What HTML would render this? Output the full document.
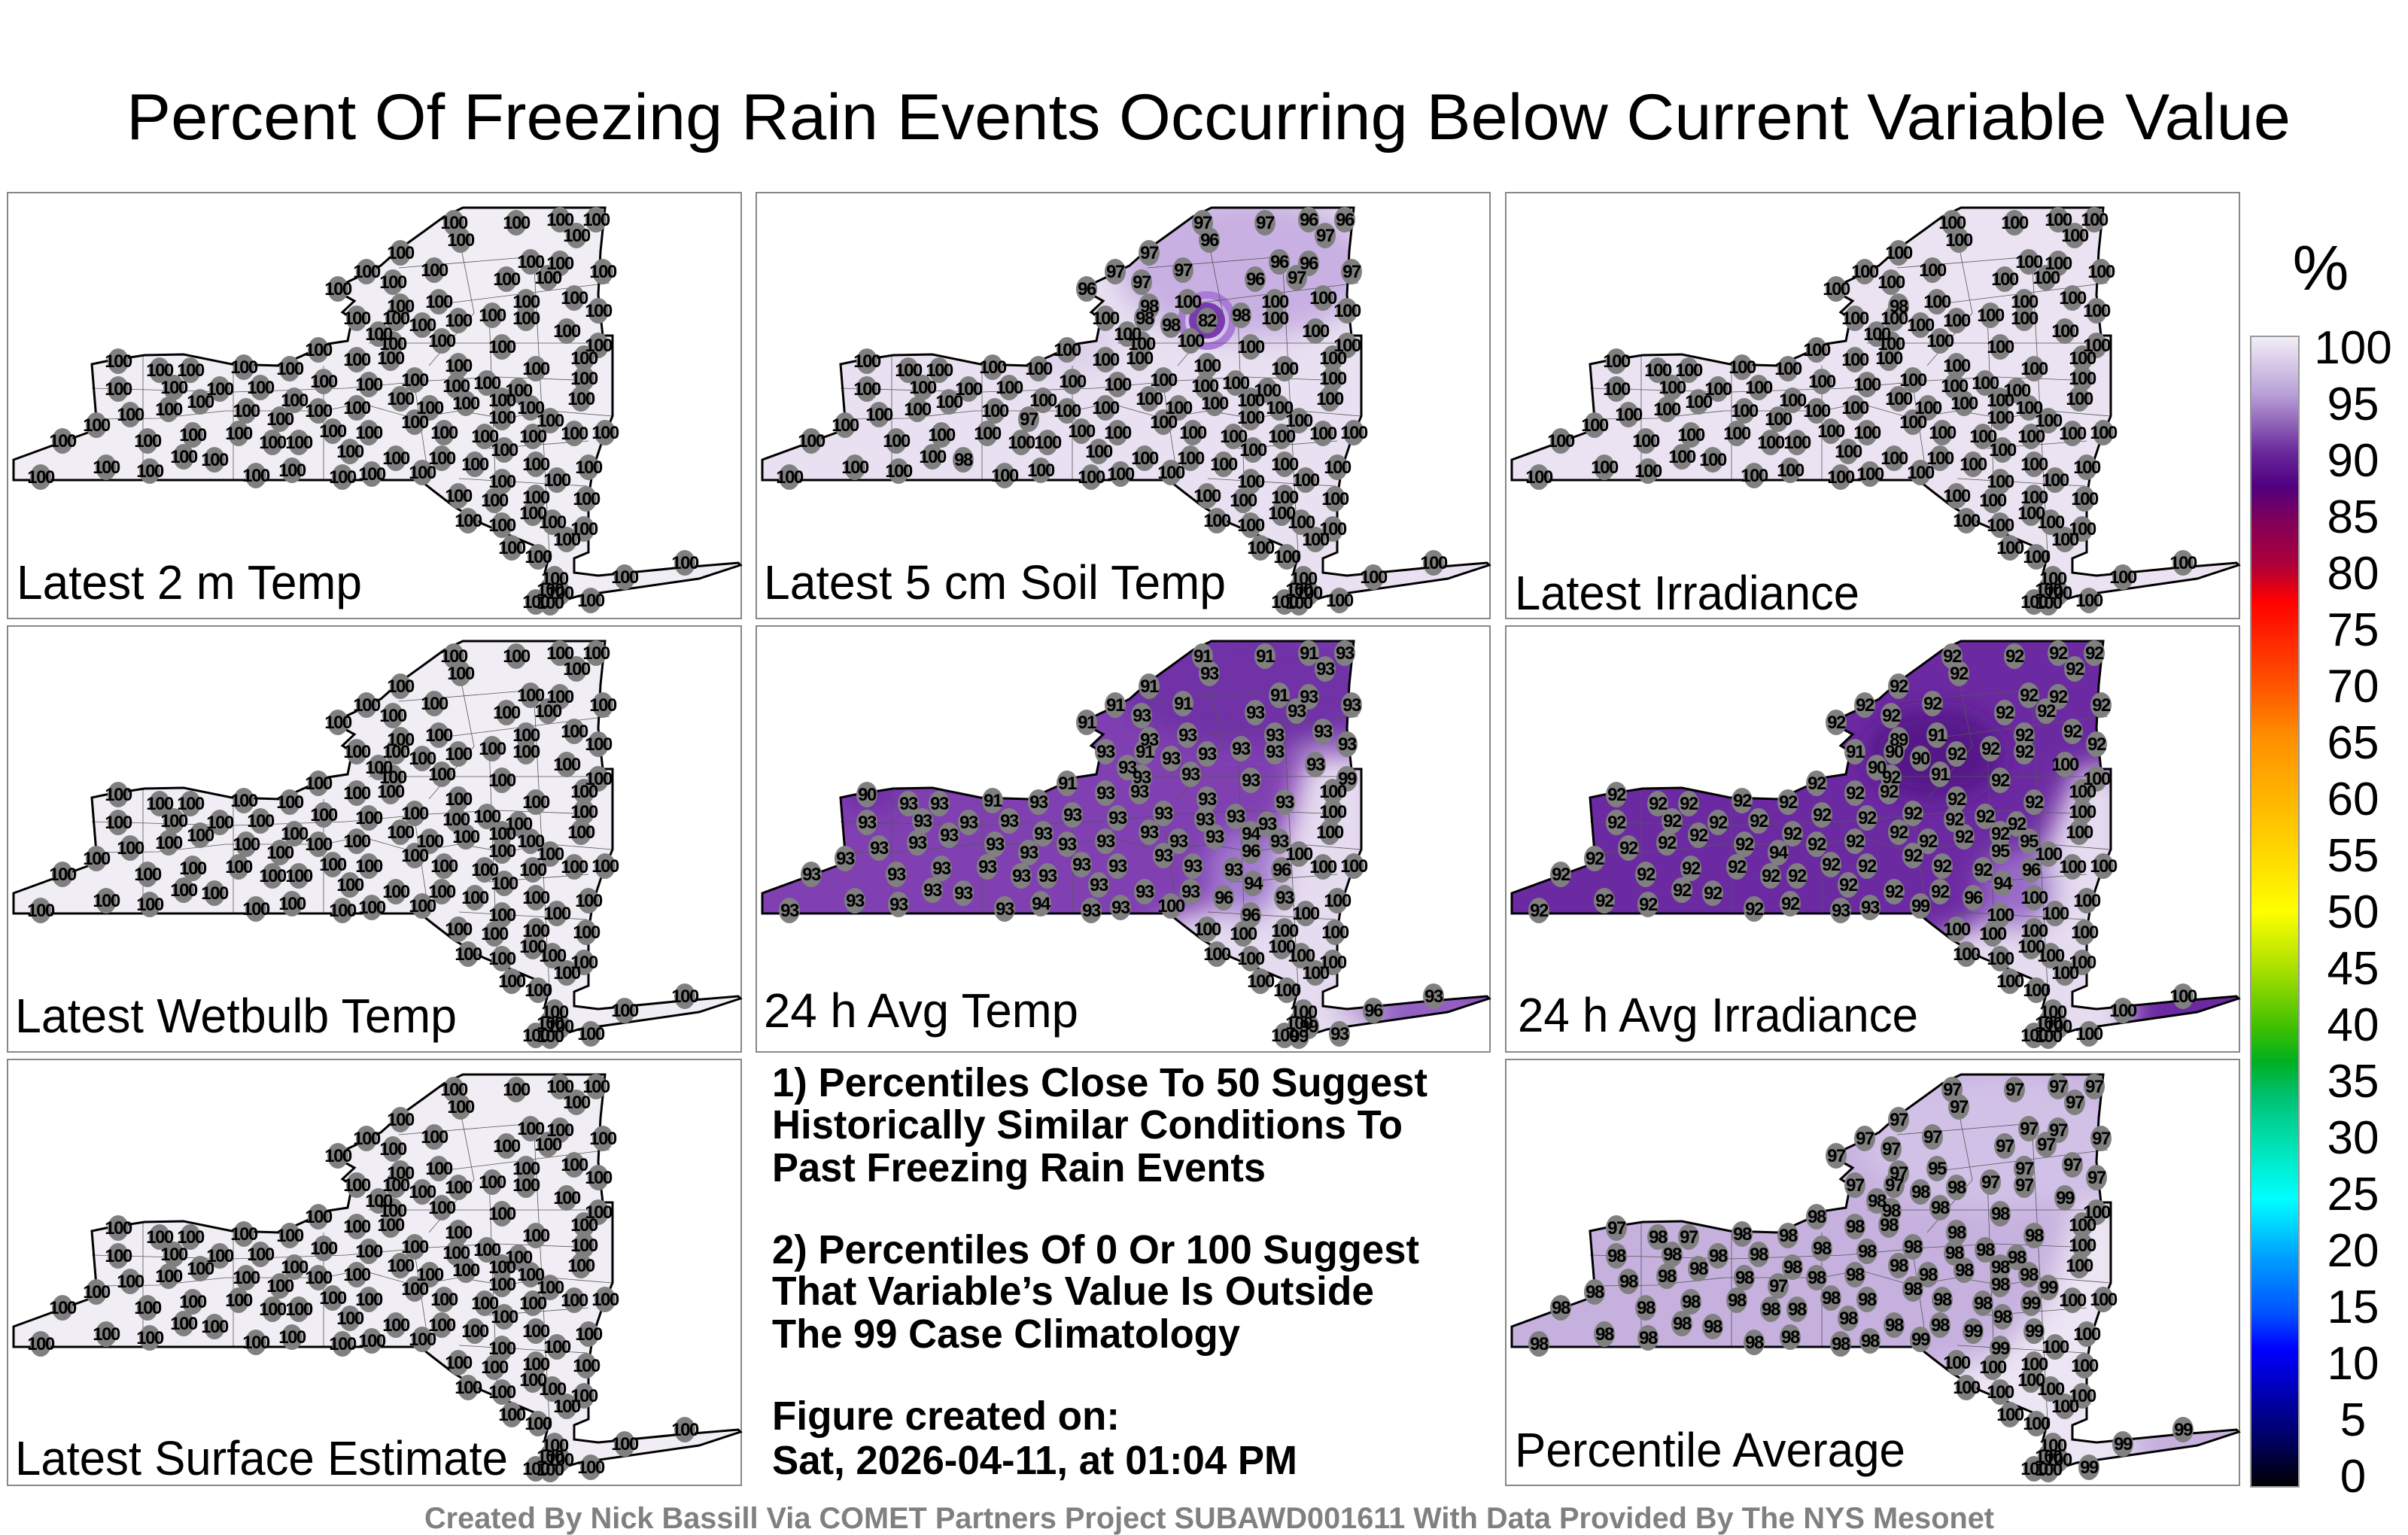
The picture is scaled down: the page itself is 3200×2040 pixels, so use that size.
<!DOCTYPE html>
<html><head><meta charset="utf-8"><style>html,body{margin:0;padding:0;background:#fff}svg{display:block}#mk ellipse{rx:14px;ry:17px}text[font-size="20"]{font-size:24px}</style></head>
<body>
<svg width="3200" height="2040" viewBox="0 0 3200 2040" xmlns="http://www.w3.org/2000/svg" font-family="Liberation Sans, sans-serif">
<defs>
<path id="ny" d="M8,382 L8,355 L112,317 L118,301 L112,228 L131,224 L182,216 L234,215 L298,228 L362,230 L400,213 L426,201 L452,197 L458,167 L445,159 L461,144 L432,128 L464,113 L496,97 L522,74 L554,51 L580,32 L605,20 L794,20 L788,78 L785,136 L791,190 L804,190 L804,297 L791,328 L778,367 L772,405 L772,478 L753,486 L753,505 L785,509 L887,499 L971,492 L974,495 L919,513 L759,536 L746,540 L721,551 L714,505 L721,478 L631,440 L593,417 L567,397 L548,382 Z"/>
<clipPath id="nyc"><use href="#ny"/></clipPath>
<filter id="bl" x="-20%" y="-20%" width="140%" height="140%"><feGaussianBlur stdDeviation="18"/></filter>
<g id="cl" stroke="#555" stroke-width="0.8" fill="none">
<path d="M118,301 L200,300 L290,290 L420,290 L470,280 L540,300 L600,290 L660,300 L720,290 L804,297"/>
<path d="M112,260 L300,265 L450,260 L560,250 L650,245 L780,250"/>
<path d="M180,382 L180,216 M300,382 L300,228 M420,382 L420,230 M560,382 L540,250 M640,160 L650,430 M700,100 L720,480 M600,60 L620,160 L560,230"/>
<path d="M560,150 L800,120 M520,100 L700,85 M480,200 L790,200 M640,340 L772,330 M600,380 L770,390"/>
</g>
<g id="mk" fill="#808080">
<ellipse cx="593" cy="40" rx="14" ry="17"/><ellipse cx="676" cy="40" rx="14" ry="17"/><ellipse cx="734" cy="36" rx="14" ry="17"/><ellipse cx="782" cy="36" rx="14" ry="17"/><ellipse cx="756" cy="57" rx="14" ry="17"/><ellipse cx="602" cy="63" rx="14" ry="17"/><ellipse cx="522" cy="80" rx="14" ry="17"/><ellipse cx="695" cy="92" rx="14" ry="17"/><ellipse cx="734" cy="94" rx="14" ry="17"/><ellipse cx="791" cy="105" rx="14" ry="17"/><ellipse cx="567" cy="103" rx="14" ry="17"/><ellipse cx="477" cy="105" rx="14" ry="17"/><ellipse cx="512" cy="119" rx="14" ry="17"/><ellipse cx="663" cy="115" rx="14" ry="17"/><ellipse cx="718" cy="113" rx="14" ry="17"/><ellipse cx="439" cy="128" rx="14" ry="17"/><ellipse cx="573" cy="145" rx="14" ry="17"/><ellipse cx="689" cy="145" rx="14" ry="17"/><ellipse cx="753" cy="140" rx="14" ry="17"/><ellipse cx="785" cy="157" rx="14" ry="17"/><ellipse cx="522" cy="151" rx="14" ry="17"/><ellipse cx="464" cy="167" rx="14" ry="17"/><ellipse cx="516" cy="167" rx="14" ry="17"/><ellipse cx="551" cy="176" rx="14" ry="17"/><ellipse cx="599" cy="170" rx="14" ry="17"/><ellipse cx="644" cy="163" rx="14" ry="17"/><ellipse cx="689" cy="167" rx="14" ry="17"/><ellipse cx="743" cy="184" rx="14" ry="17"/><ellipse cx="493" cy="188" rx="14" ry="17"/><ellipse cx="512" cy="201" rx="14" ry="17"/><ellipse cx="577" cy="197" rx="14" ry="17"/><ellipse cx="657" cy="205" rx="14" ry="17"/><ellipse cx="785" cy="203" rx="14" ry="17"/><ellipse cx="413" cy="209" rx="14" ry="17"/><ellipse cx="464" cy="222" rx="14" ry="17"/><ellipse cx="509" cy="220" rx="14" ry="17"/><ellipse cx="599" cy="230" rx="14" ry="17"/><ellipse cx="702" cy="234" rx="14" ry="17"/><ellipse cx="766" cy="220" rx="14" ry="17"/><ellipse cx="147" cy="224" rx="14" ry="17"/><ellipse cx="202" cy="236" rx="14" ry="17"/><ellipse cx="243" cy="236" rx="14" ry="17"/><ellipse cx="314" cy="232" rx="14" ry="17"/><ellipse cx="375" cy="234" rx="14" ry="17"/><ellipse cx="541" cy="249" rx="14" ry="17"/><ellipse cx="420" cy="251" rx="14" ry="17"/><ellipse cx="480" cy="255" rx="14" ry="17"/><ellipse cx="596" cy="257" rx="14" ry="17"/><ellipse cx="637" cy="253" rx="14" ry="17"/><ellipse cx="679" cy="263" rx="14" ry="17"/><ellipse cx="766" cy="247" rx="14" ry="17"/><ellipse cx="147" cy="261" rx="14" ry="17"/><ellipse cx="221" cy="259" rx="14" ry="17"/><ellipse cx="282" cy="261" rx="14" ry="17"/><ellipse cx="336" cy="259" rx="14" ry="17"/><ellipse cx="381" cy="276" rx="14" ry="17"/><ellipse cx="256" cy="278" rx="14" ry="17"/><ellipse cx="214" cy="288" rx="14" ry="17"/><ellipse cx="317" cy="290" rx="14" ry="17"/><ellipse cx="362" cy="301" rx="14" ry="17"/><ellipse cx="413" cy="290" rx="14" ry="17"/><ellipse cx="464" cy="286" rx="14" ry="17"/><ellipse cx="522" cy="274" rx="14" ry="17"/><ellipse cx="561" cy="286" rx="14" ry="17"/><ellipse cx="609" cy="280" rx="14" ry="17"/><ellipse cx="657" cy="276" rx="14" ry="17"/><ellipse cx="695" cy="286" rx="14" ry="17"/><ellipse cx="762" cy="274" rx="14" ry="17"/><ellipse cx="163" cy="295" rx="14" ry="17"/><ellipse cx="118" cy="309" rx="14" ry="17"/><ellipse cx="541" cy="305" rx="14" ry="17"/><ellipse cx="657" cy="299" rx="14" ry="17"/><ellipse cx="721" cy="303" rx="14" ry="17"/><ellipse cx="432" cy="317" rx="14" ry="17"/><ellipse cx="480" cy="319" rx="14" ry="17"/><ellipse cx="580" cy="319" rx="14" ry="17"/><ellipse cx="634" cy="324" rx="14" ry="17"/><ellipse cx="698" cy="324" rx="14" ry="17"/><ellipse cx="753" cy="320" rx="14" ry="17"/><ellipse cx="794" cy="319" rx="14" ry="17"/><ellipse cx="73" cy="330" rx="14" ry="17"/><ellipse cx="186" cy="330" rx="14" ry="17"/><ellipse cx="246" cy="322" rx="14" ry="17"/><ellipse cx="307" cy="320" rx="14" ry="17"/><ellipse cx="352" cy="332" rx="14" ry="17"/><ellipse cx="387" cy="332" rx="14" ry="17"/><ellipse cx="455" cy="344" rx="14" ry="17"/><ellipse cx="660" cy="342" rx="14" ry="17"/><ellipse cx="234" cy="351" rx="14" ry="17"/><ellipse cx="275" cy="355" rx="14" ry="17"/><ellipse cx="516" cy="353" rx="14" ry="17"/><ellipse cx="577" cy="353" rx="14" ry="17"/><ellipse cx="621" cy="361" rx="14" ry="17"/><ellipse cx="702" cy="361" rx="14" ry="17"/><ellipse cx="772" cy="365" rx="14" ry="17"/><ellipse cx="131" cy="365" rx="14" ry="17"/><ellipse cx="189" cy="370" rx="14" ry="17"/><ellipse cx="44" cy="378" rx="14" ry="17"/><ellipse cx="330" cy="376" rx="14" ry="17"/><ellipse cx="378" cy="369" rx="14" ry="17"/><ellipse cx="445" cy="378" rx="14" ry="17"/><ellipse cx="484" cy="374" rx="14" ry="17"/><ellipse cx="551" cy="372" rx="14" ry="17"/><ellipse cx="657" cy="384" rx="14" ry="17"/><ellipse cx="730" cy="382" rx="14" ry="17"/><ellipse cx="599" cy="403" rx="14" ry="17"/><ellipse cx="647" cy="409" rx="14" ry="17"/><ellipse cx="702" cy="405" rx="14" ry="17"/><ellipse cx="769" cy="407" rx="14" ry="17"/><ellipse cx="698" cy="426" rx="14" ry="17"/><ellipse cx="724" cy="438" rx="14" ry="17"/><ellipse cx="612" cy="436" rx="14" ry="17"/><ellipse cx="657" cy="442" rx="14" ry="17"/><ellipse cx="766" cy="447" rx="14" ry="17"/><ellipse cx="743" cy="461" rx="14" ry="17"/><ellipse cx="670" cy="472" rx="14" ry="17"/><ellipse cx="705" cy="484" rx="14" ry="17"/><ellipse cx="727" cy="513" rx="14" ry="17"/><ellipse cx="721" cy="528" rx="14" ry="17"/><ellipse cx="734" cy="532" rx="14" ry="17"/><ellipse cx="702" cy="544" rx="14" ry="17"/><ellipse cx="721" cy="545" rx="14" ry="17"/><ellipse cx="775" cy="542" rx="14" ry="17"/><ellipse cx="820" cy="511" rx="14" ry="17"/><ellipse cx="900" cy="492" rx="14" ry="17"/>
</g>
<linearGradient id="cb" x1="0" y1="0" x2="0" y2="1">
<stop offset="0" stop-color="#f3eff7"/><stop offset="0.05" stop-color="#b9a0d8"/><stop offset="0.1" stop-color="#6a2a9c"/><stop offset="0.13" stop-color="#500080"/><stop offset="0.16" stop-color="#80005a"/><stop offset="0.2" stop-color="#b00038"/><stop offset="0.23" stop-color="#ff0000"/><stop offset="0.3" stop-color="#ff5000"/><stop offset="0.35" stop-color="#ff9000"/><stop offset="0.4" stop-color="#ffb400"/><stop offset="0.45" stop-color="#ffd800"/><stop offset="0.5" stop-color="#ffff00"/><stop offset="0.55" stop-color="#a8e000"/><stop offset="0.6" stop-color="#40c000"/><stop offset="0.63" stop-color="#00b020"/><stop offset="0.66" stop-color="#00c070"/><stop offset="0.7" stop-color="#00e0b0"/><stop offset="0.75" stop-color="#00ffff"/><stop offset="0.8" stop-color="#00a0ff"/><stop offset="0.85" stop-color="#0050ff"/><stop offset="0.88" stop-color="#0000ff"/><stop offset="0.92" stop-color="#0000b0"/><stop offset="0.96" stop-color="#000060"/><stop offset="1" stop-color="#000000"/>
</linearGradient>
</defs>
<rect width="3200" height="2040" fill="#fff"/>
<text x="168" y="185" font-size="86" textLength="2876" lengthAdjust="spacingAndGlyphs">Percent Of Freezing Rain Events Occurring Below Current Variable Value</text>

<!-- Panel 1 -->
<g transform="translate(10,256)">
<rect x="0" y="0" width="975" height="566" fill="#fff" stroke="#888" stroke-width="2"/>
<use href="#ny" fill="#f1edf5"/>
<use href="#cl"/>
<use href="#ny" fill="none" stroke="#000" stroke-width="3"/>
<use href="#mk"/>
<text font-size="20" font-weight="bold" text-anchor="middle" letter-spacing="-1.5" fill="#000"><tspan x="593" y="48">100</tspan><tspan x="676" y="48">100</tspan><tspan x="734" y="44">100</tspan><tspan x="782" y="44">100</tspan><tspan x="756" y="65">100</tspan><tspan x="602" y="71">100</tspan><tspan x="522" y="88">100</tspan><tspan x="695" y="100">100</tspan><tspan x="734" y="102">100</tspan><tspan x="791" y="113">100</tspan><tspan x="567" y="111">100</tspan><tspan x="477" y="113">100</tspan><tspan x="512" y="127">100</tspan><tspan x="663" y="123">100</tspan><tspan x="718" y="121">100</tspan><tspan x="439" y="136">100</tspan><tspan x="573" y="153">100</tspan><tspan x="689" y="153">100</tspan><tspan x="753" y="148">100</tspan><tspan x="785" y="165">100</tspan><tspan x="522" y="159">100</tspan><tspan x="464" y="175">100</tspan><tspan x="516" y="175">100</tspan><tspan x="551" y="184">100</tspan><tspan x="599" y="178">100</tspan><tspan x="644" y="171">100</tspan><tspan x="689" y="175">100</tspan><tspan x="743" y="192">100</tspan><tspan x="493" y="196">100</tspan><tspan x="512" y="209">100</tspan><tspan x="577" y="205">100</tspan><tspan x="657" y="213">100</tspan><tspan x="785" y="211">100</tspan><tspan x="413" y="217">100</tspan><tspan x="464" y="230">100</tspan><tspan x="509" y="228">100</tspan><tspan x="599" y="238">100</tspan><tspan x="702" y="242">100</tspan><tspan x="766" y="228">100</tspan><tspan x="147" y="232">100</tspan><tspan x="202" y="244">100</tspan><tspan x="243" y="244">100</tspan><tspan x="314" y="240">100</tspan><tspan x="375" y="242">100</tspan><tspan x="541" y="257">100</tspan><tspan x="420" y="259">100</tspan><tspan x="480" y="263">100</tspan><tspan x="596" y="265">100</tspan><tspan x="637" y="261">100</tspan><tspan x="679" y="271">100</tspan><tspan x="766" y="255">100</tspan><tspan x="147" y="269">100</tspan><tspan x="221" y="267">100</tspan><tspan x="282" y="269">100</tspan><tspan x="336" y="267">100</tspan><tspan x="381" y="284">100</tspan><tspan x="256" y="286">100</tspan><tspan x="214" y="296">100</tspan><tspan x="317" y="298">100</tspan><tspan x="362" y="309">100</tspan><tspan x="413" y="298">100</tspan><tspan x="464" y="294">100</tspan><tspan x="522" y="282">100</tspan><tspan x="561" y="294">100</tspan><tspan x="609" y="288">100</tspan><tspan x="657" y="284">100</tspan><tspan x="695" y="294">100</tspan><tspan x="762" y="282">100</tspan><tspan x="163" y="303">100</tspan><tspan x="118" y="317">100</tspan><tspan x="541" y="313">100</tspan><tspan x="657" y="307">100</tspan><tspan x="721" y="311">100</tspan><tspan x="432" y="325">100</tspan><tspan x="480" y="327">100</tspan><tspan x="580" y="327">100</tspan><tspan x="634" y="332">100</tspan><tspan x="698" y="332">100</tspan><tspan x="753" y="328">100</tspan><tspan x="794" y="327">100</tspan><tspan x="73" y="338">100</tspan><tspan x="186" y="338">100</tspan><tspan x="246" y="330">100</tspan><tspan x="307" y="328">100</tspan><tspan x="352" y="340">100</tspan><tspan x="387" y="340">100</tspan><tspan x="455" y="352">100</tspan><tspan x="660" y="350">100</tspan><tspan x="234" y="359">100</tspan><tspan x="275" y="363">100</tspan><tspan x="516" y="361">100</tspan><tspan x="577" y="361">100</tspan><tspan x="621" y="369">100</tspan><tspan x="702" y="369">100</tspan><tspan x="772" y="373">100</tspan><tspan x="131" y="373">100</tspan><tspan x="189" y="378">100</tspan><tspan x="44" y="386">100</tspan><tspan x="330" y="384">100</tspan><tspan x="378" y="377">100</tspan><tspan x="445" y="386">100</tspan><tspan x="484" y="382">100</tspan><tspan x="551" y="380">100</tspan><tspan x="657" y="392">100</tspan><tspan x="730" y="390">100</tspan><tspan x="599" y="411">100</tspan><tspan x="647" y="417">100</tspan><tspan x="702" y="413">100</tspan><tspan x="769" y="415">100</tspan><tspan x="698" y="434">100</tspan><tspan x="724" y="446">100</tspan><tspan x="612" y="444">100</tspan><tspan x="657" y="450">100</tspan><tspan x="766" y="455">100</tspan><tspan x="743" y="469">100</tspan><tspan x="670" y="480">100</tspan><tspan x="705" y="492">100</tspan><tspan x="727" y="521">100</tspan><tspan x="721" y="536">100</tspan><tspan x="734" y="540">100</tspan><tspan x="702" y="552">100</tspan><tspan x="721" y="553">100</tspan><tspan x="775" y="550">100</tspan><tspan x="820" y="519">100</tspan><tspan x="900" y="500">100</tspan></text>
<text x="12" y="540" font-size="64" textLength="459" lengthAdjust="spacingAndGlyphs">Latest 2 m Temp</text>
</g>

<!-- Panel 2 -->
<g transform="translate(1005,256)">
<rect x="0" y="0" width="975" height="566" fill="#fff" stroke="#888" stroke-width="2"/>
<use href="#ny" fill="#e9e1f1"/>
<g clip-path="url(#nyc)"><g filter="url(#bl)"><ellipse cx="650" cy="100" rx="170" ry="95" fill="#c8b0e2"/><ellipse cx="420" cy="200" rx="60" ry="40" fill="#dcd0ea"/></g><circle cx="599" cy="170" r="24" fill="#7a3ab0"/><circle cx="599" cy="170" r="34" fill="none" stroke="#a97ad6" stroke-width="10"/></g>
<use href="#cl"/>
<use href="#ny" fill="none" stroke="#000" stroke-width="3"/>
<use href="#mk"/>
<text font-size="20" font-weight="bold" text-anchor="middle" letter-spacing="-1.5" fill="#000"><tspan x="593" y="48">97</tspan><tspan x="676" y="48">97</tspan><tspan x="734" y="44">96</tspan><tspan x="782" y="44">96</tspan><tspan x="756" y="65">97</tspan><tspan x="602" y="71">96</tspan><tspan x="522" y="88">97</tspan><tspan x="695" y="100">96</tspan><tspan x="734" y="102">96</tspan><tspan x="791" y="113">97</tspan><tspan x="567" y="111">97</tspan><tspan x="477" y="113">97</tspan><tspan x="512" y="127">97</tspan><tspan x="663" y="123">96</tspan><tspan x="718" y="121">97</tspan><tspan x="439" y="136">96</tspan><tspan x="573" y="153">100</tspan><tspan x="689" y="153">100</tspan><tspan x="753" y="148">100</tspan><tspan x="785" y="165">100</tspan><tspan x="522" y="159">98</tspan><tspan x="464" y="175">100</tspan><tspan x="516" y="175">98</tspan><tspan x="551" y="184">98</tspan><tspan x="599" y="178">82</tspan><tspan x="644" y="171">98</tspan><tspan x="689" y="175">100</tspan><tspan x="743" y="192">100</tspan><tspan x="493" y="196">100</tspan><tspan x="512" y="209">100</tspan><tspan x="577" y="205">100</tspan><tspan x="657" y="213">100</tspan><tspan x="785" y="211">100</tspan><tspan x="413" y="217">100</tspan><tspan x="464" y="230">100</tspan><tspan x="509" y="228">100</tspan><tspan x="599" y="238">100</tspan><tspan x="702" y="242">100</tspan><tspan x="766" y="228">100</tspan><tspan x="147" y="232">100</tspan><tspan x="202" y="244">100</tspan><tspan x="243" y="244">100</tspan><tspan x="314" y="240">100</tspan><tspan x="375" y="242">100</tspan><tspan x="541" y="257">100</tspan><tspan x="420" y="259">100</tspan><tspan x="480" y="263">100</tspan><tspan x="596" y="265">100</tspan><tspan x="637" y="261">100</tspan><tspan x="679" y="271">100</tspan><tspan x="766" y="255">100</tspan><tspan x="147" y="269">100</tspan><tspan x="221" y="267">100</tspan><tspan x="282" y="269">100</tspan><tspan x="336" y="267">100</tspan><tspan x="381" y="284">100</tspan><tspan x="256" y="286">100</tspan><tspan x="214" y="296">100</tspan><tspan x="317" y="298">100</tspan><tspan x="362" y="309">97</tspan><tspan x="413" y="298">100</tspan><tspan x="464" y="294">100</tspan><tspan x="522" y="282">100</tspan><tspan x="561" y="294">100</tspan><tspan x="609" y="288">100</tspan><tspan x="657" y="284">100</tspan><tspan x="695" y="294">100</tspan><tspan x="762" y="282">100</tspan><tspan x="163" y="303">100</tspan><tspan x="118" y="317">100</tspan><tspan x="541" y="313">100</tspan><tspan x="657" y="307">100</tspan><tspan x="721" y="311">100</tspan><tspan x="432" y="325">100</tspan><tspan x="480" y="327">100</tspan><tspan x="580" y="327">100</tspan><tspan x="634" y="332">100</tspan><tspan x="698" y="332">100</tspan><tspan x="753" y="328">100</tspan><tspan x="794" y="327">100</tspan><tspan x="73" y="338">100</tspan><tspan x="186" y="338">100</tspan><tspan x="246" y="330">100</tspan><tspan x="307" y="328">100</tspan><tspan x="352" y="340">100</tspan><tspan x="387" y="340">100</tspan><tspan x="455" y="352">100</tspan><tspan x="660" y="350">100</tspan><tspan x="234" y="359">100</tspan><tspan x="275" y="363">98</tspan><tspan x="516" y="361">100</tspan><tspan x="577" y="361">100</tspan><tspan x="621" y="369">100</tspan><tspan x="702" y="369">100</tspan><tspan x="772" y="373">100</tspan><tspan x="131" y="373">100</tspan><tspan x="189" y="378">100</tspan><tspan x="44" y="386">100</tspan><tspan x="330" y="384">100</tspan><tspan x="378" y="377">100</tspan><tspan x="445" y="386">100</tspan><tspan x="484" y="382">100</tspan><tspan x="551" y="380">100</tspan><tspan x="657" y="392">100</tspan><tspan x="730" y="390">100</tspan><tspan x="599" y="411">100</tspan><tspan x="647" y="417">100</tspan><tspan x="702" y="413">100</tspan><tspan x="769" y="415">100</tspan><tspan x="698" y="434">100</tspan><tspan x="724" y="446">100</tspan><tspan x="612" y="444">100</tspan><tspan x="657" y="450">100</tspan><tspan x="766" y="455">100</tspan><tspan x="743" y="469">100</tspan><tspan x="670" y="480">100</tspan><tspan x="705" y="492">100</tspan><tspan x="727" y="521">100</tspan><tspan x="721" y="536">100</tspan><tspan x="734" y="540">100</tspan><tspan x="702" y="552">100</tspan><tspan x="721" y="553">100</tspan><tspan x="775" y="550">100</tspan><tspan x="820" y="519">100</tspan><tspan x="900" y="500">100</tspan></text>
<text x="10" y="540" font-size="64" textLength="614" lengthAdjust="spacingAndGlyphs">Latest 5 cm Soil Temp</text>
</g>

<!-- Panel 3 -->
<g transform="translate(2001,256)">
<rect x="0" y="0" width="975" height="566" fill="#fff" stroke="#888" stroke-width="2"/>
<use href="#ny" fill="#ebe3f2"/>
<use href="#cl"/>
<use href="#ny" fill="none" stroke="#000" stroke-width="3"/>
<use href="#mk"/>
<text font-size="20" font-weight="bold" text-anchor="middle" letter-spacing="-1.5" fill="#000"><tspan x="593" y="48">100</tspan><tspan x="676" y="48">100</tspan><tspan x="734" y="44">100</tspan><tspan x="782" y="44">100</tspan><tspan x="756" y="65">100</tspan><tspan x="602" y="71">100</tspan><tspan x="522" y="88">100</tspan><tspan x="695" y="100">100</tspan><tspan x="734" y="102">100</tspan><tspan x="791" y="113">100</tspan><tspan x="567" y="111">100</tspan><tspan x="477" y="113">100</tspan><tspan x="512" y="127">100</tspan><tspan x="663" y="123">100</tspan><tspan x="718" y="121">100</tspan><tspan x="439" y="136">100</tspan><tspan x="573" y="153">100</tspan><tspan x="689" y="153">100</tspan><tspan x="753" y="148">100</tspan><tspan x="785" y="165">100</tspan><tspan x="522" y="159">98</tspan><tspan x="464" y="175">100</tspan><tspan x="516" y="175">100</tspan><tspan x="551" y="184">100</tspan><tspan x="599" y="178">100</tspan><tspan x="644" y="171">100</tspan><tspan x="689" y="175">100</tspan><tspan x="743" y="192">100</tspan><tspan x="493" y="196">100</tspan><tspan x="512" y="209">100</tspan><tspan x="577" y="205">100</tspan><tspan x="657" y="213">100</tspan><tspan x="785" y="211">100</tspan><tspan x="413" y="217">100</tspan><tspan x="464" y="230">100</tspan><tspan x="509" y="228">100</tspan><tspan x="599" y="238">100</tspan><tspan x="702" y="242">100</tspan><tspan x="766" y="228">100</tspan><tspan x="147" y="232">100</tspan><tspan x="202" y="244">100</tspan><tspan x="243" y="244">100</tspan><tspan x="314" y="240">100</tspan><tspan x="375" y="242">100</tspan><tspan x="541" y="257">100</tspan><tspan x="420" y="259">100</tspan><tspan x="480" y="263">100</tspan><tspan x="596" y="265">100</tspan><tspan x="637" y="261">100</tspan><tspan x="679" y="271">100</tspan><tspan x="766" y="255">100</tspan><tspan x="147" y="269">100</tspan><tspan x="221" y="267">100</tspan><tspan x="282" y="269">100</tspan><tspan x="336" y="267">100</tspan><tspan x="381" y="284">100</tspan><tspan x="256" y="286">100</tspan><tspan x="214" y="296">100</tspan><tspan x="317" y="298">100</tspan><tspan x="362" y="309">100</tspan><tspan x="413" y="298">100</tspan><tspan x="464" y="294">100</tspan><tspan x="522" y="282">100</tspan><tspan x="561" y="294">100</tspan><tspan x="609" y="288">100</tspan><tspan x="657" y="284">100</tspan><tspan x="695" y="294">100</tspan><tspan x="762" y="282">100</tspan><tspan x="163" y="303">100</tspan><tspan x="118" y="317">100</tspan><tspan x="541" y="313">100</tspan><tspan x="657" y="307">100</tspan><tspan x="721" y="311">100</tspan><tspan x="432" y="325">100</tspan><tspan x="480" y="327">100</tspan><tspan x="580" y="327">100</tspan><tspan x="634" y="332">100</tspan><tspan x="698" y="332">100</tspan><tspan x="753" y="328">100</tspan><tspan x="794" y="327">100</tspan><tspan x="73" y="338">100</tspan><tspan x="186" y="338">100</tspan><tspan x="246" y="330">100</tspan><tspan x="307" y="328">100</tspan><tspan x="352" y="340">100</tspan><tspan x="387" y="340">100</tspan><tspan x="455" y="352">100</tspan><tspan x="660" y="350">100</tspan><tspan x="234" y="359">100</tspan><tspan x="275" y="363">100</tspan><tspan x="516" y="361">100</tspan><tspan x="577" y="361">100</tspan><tspan x="621" y="369">100</tspan><tspan x="702" y="369">100</tspan><tspan x="772" y="373">100</tspan><tspan x="131" y="373">100</tspan><tspan x="189" y="378">100</tspan><tspan x="44" y="386">100</tspan><tspan x="330" y="384">100</tspan><tspan x="378" y="377">100</tspan><tspan x="445" y="386">100</tspan><tspan x="484" y="382">100</tspan><tspan x="551" y="380">100</tspan><tspan x="657" y="392">100</tspan><tspan x="730" y="390">100</tspan><tspan x="599" y="411">100</tspan><tspan x="647" y="417">100</tspan><tspan x="702" y="413">100</tspan><tspan x="769" y="415">100</tspan><tspan x="698" y="434">100</tspan><tspan x="724" y="446">100</tspan><tspan x="612" y="444">100</tspan><tspan x="657" y="450">100</tspan><tspan x="766" y="455">100</tspan><tspan x="743" y="469">100</tspan><tspan x="670" y="480">100</tspan><tspan x="705" y="492">100</tspan><tspan x="727" y="521">100</tspan><tspan x="721" y="536">100</tspan><tspan x="734" y="540">100</tspan><tspan x="702" y="552">100</tspan><tspan x="721" y="553">100</tspan><tspan x="775" y="550">100</tspan><tspan x="820" y="519">100</tspan><tspan x="900" y="500">100</tspan></text>
<text x="12" y="554" font-size="64" textLength="458" lengthAdjust="spacingAndGlyphs">Latest Irradiance</text>
</g>

<!-- Panel 4 -->
<g transform="translate(10,832)">
<rect x="0" y="0" width="975" height="566" fill="#fff" stroke="#888" stroke-width="2"/>
<use href="#ny" fill="#f1edf5"/>
<use href="#cl"/>
<use href="#ny" fill="none" stroke="#000" stroke-width="3"/>
<use href="#mk"/>
<text font-size="20" font-weight="bold" text-anchor="middle" letter-spacing="-1.5" fill="#000"><tspan x="593" y="48">100</tspan><tspan x="676" y="48">100</tspan><tspan x="734" y="44">100</tspan><tspan x="782" y="44">100</tspan><tspan x="756" y="65">100</tspan><tspan x="602" y="71">100</tspan><tspan x="522" y="88">100</tspan><tspan x="695" y="100">100</tspan><tspan x="734" y="102">100</tspan><tspan x="791" y="113">100</tspan><tspan x="567" y="111">100</tspan><tspan x="477" y="113">100</tspan><tspan x="512" y="127">100</tspan><tspan x="663" y="123">100</tspan><tspan x="718" y="121">100</tspan><tspan x="439" y="136">100</tspan><tspan x="573" y="153">100</tspan><tspan x="689" y="153">100</tspan><tspan x="753" y="148">100</tspan><tspan x="785" y="165">100</tspan><tspan x="522" y="159">100</tspan><tspan x="464" y="175">100</tspan><tspan x="516" y="175">100</tspan><tspan x="551" y="184">100</tspan><tspan x="599" y="178">100</tspan><tspan x="644" y="171">100</tspan><tspan x="689" y="175">100</tspan><tspan x="743" y="192">100</tspan><tspan x="493" y="196">100</tspan><tspan x="512" y="209">100</tspan><tspan x="577" y="205">100</tspan><tspan x="657" y="213">100</tspan><tspan x="785" y="211">100</tspan><tspan x="413" y="217">100</tspan><tspan x="464" y="230">100</tspan><tspan x="509" y="228">100</tspan><tspan x="599" y="238">100</tspan><tspan x="702" y="242">100</tspan><tspan x="766" y="228">100</tspan><tspan x="147" y="232">100</tspan><tspan x="202" y="244">100</tspan><tspan x="243" y="244">100</tspan><tspan x="314" y="240">100</tspan><tspan x="375" y="242">100</tspan><tspan x="541" y="257">100</tspan><tspan x="420" y="259">100</tspan><tspan x="480" y="263">100</tspan><tspan x="596" y="265">100</tspan><tspan x="637" y="261">100</tspan><tspan x="679" y="271">100</tspan><tspan x="766" y="255">100</tspan><tspan x="147" y="269">100</tspan><tspan x="221" y="267">100</tspan><tspan x="282" y="269">100</tspan><tspan x="336" y="267">100</tspan><tspan x="381" y="284">100</tspan><tspan x="256" y="286">100</tspan><tspan x="214" y="296">100</tspan><tspan x="317" y="298">100</tspan><tspan x="362" y="309">100</tspan><tspan x="413" y="298">100</tspan><tspan x="464" y="294">100</tspan><tspan x="522" y="282">100</tspan><tspan x="561" y="294">100</tspan><tspan x="609" y="288">100</tspan><tspan x="657" y="284">100</tspan><tspan x="695" y="294">100</tspan><tspan x="762" y="282">100</tspan><tspan x="163" y="303">100</tspan><tspan x="118" y="317">100</tspan><tspan x="541" y="313">100</tspan><tspan x="657" y="307">100</tspan><tspan x="721" y="311">100</tspan><tspan x="432" y="325">100</tspan><tspan x="480" y="327">100</tspan><tspan x="580" y="327">100</tspan><tspan x="634" y="332">100</tspan><tspan x="698" y="332">100</tspan><tspan x="753" y="328">100</tspan><tspan x="794" y="327">100</tspan><tspan x="73" y="338">100</tspan><tspan x="186" y="338">100</tspan><tspan x="246" y="330">100</tspan><tspan x="307" y="328">100</tspan><tspan x="352" y="340">100</tspan><tspan x="387" y="340">100</tspan><tspan x="455" y="352">100</tspan><tspan x="660" y="350">100</tspan><tspan x="234" y="359">100</tspan><tspan x="275" y="363">100</tspan><tspan x="516" y="361">100</tspan><tspan x="577" y="361">100</tspan><tspan x="621" y="369">100</tspan><tspan x="702" y="369">100</tspan><tspan x="772" y="373">100</tspan><tspan x="131" y="373">100</tspan><tspan x="189" y="378">100</tspan><tspan x="44" y="386">100</tspan><tspan x="330" y="384">100</tspan><tspan x="378" y="377">100</tspan><tspan x="445" y="386">100</tspan><tspan x="484" y="382">100</tspan><tspan x="551" y="380">100</tspan><tspan x="657" y="392">100</tspan><tspan x="730" y="390">100</tspan><tspan x="599" y="411">100</tspan><tspan x="647" y="417">100</tspan><tspan x="702" y="413">100</tspan><tspan x="769" y="415">100</tspan><tspan x="698" y="434">100</tspan><tspan x="724" y="446">100</tspan><tspan x="612" y="444">100</tspan><tspan x="657" y="450">100</tspan><tspan x="766" y="455">100</tspan><tspan x="743" y="469">100</tspan><tspan x="670" y="480">100</tspan><tspan x="705" y="492">100</tspan><tspan x="727" y="521">100</tspan><tspan x="721" y="536">100</tspan><tspan x="734" y="540">100</tspan><tspan x="702" y="552">100</tspan><tspan x="721" y="553">100</tspan><tspan x="775" y="550">100</tspan><tspan x="820" y="519">100</tspan><tspan x="900" y="500">100</tspan></text>
<text x="10" y="540" font-size="64" textLength="587" lengthAdjust="spacingAndGlyphs">Latest Wetbulb Temp</text>
</g>

<!-- Panel 5 -->
<g transform="translate(1005,832)">
<rect x="0" y="0" width="975" height="566" fill="#fff" stroke="#888" stroke-width="2"/>
<use href="#ny" fill="#8040b2"/>
<g clip-path="url(#nyc)"><g filter="url(#bl)"><ellipse cx="650" cy="80" rx="170" ry="80" fill="#7030a6"/><ellipse cx="150" cy="220" rx="40" ry="20" fill="#6a28a0"/><path d="M730,170 L830,170 L830,580 L540,580 L540,390 L640,370 L690,320 L710,250 Z" fill="#e6dcf0"/><ellipse cx="880" cy="505" rx="110" ry="22" fill="#9a6ac8"/><ellipse cx="650" cy="330" rx="50" ry="60" fill="#a27ad0"/></g></g>
<use href="#cl"/>
<use href="#ny" fill="none" stroke="#000" stroke-width="3"/>
<use href="#mk"/>
<text font-size="20" font-weight="bold" text-anchor="middle" letter-spacing="-1.5" fill="#000"><tspan x="593" y="48">91</tspan><tspan x="676" y="48">91</tspan><tspan x="734" y="44">91</tspan><tspan x="782" y="44">93</tspan><tspan x="756" y="65">93</tspan><tspan x="602" y="71">93</tspan><tspan x="522" y="88">91</tspan><tspan x="695" y="100">91</tspan><tspan x="734" y="102">93</tspan><tspan x="791" y="113">93</tspan><tspan x="567" y="111">91</tspan><tspan x="477" y="113">91</tspan><tspan x="512" y="127">93</tspan><tspan x="663" y="123">93</tspan><tspan x="718" y="121">93</tspan><tspan x="439" y="136">91</tspan><tspan x="573" y="153">93</tspan><tspan x="689" y="153">93</tspan><tspan x="753" y="148">93</tspan><tspan x="785" y="165">93</tspan><tspan x="522" y="159">93</tspan><tspan x="464" y="175">93</tspan><tspan x="516" y="175">91</tspan><tspan x="551" y="184">93</tspan><tspan x="599" y="178">93</tspan><tspan x="644" y="171">93</tspan><tspan x="689" y="175">93</tspan><tspan x="743" y="192">93</tspan><tspan x="493" y="196">93</tspan><tspan x="512" y="209">93</tspan><tspan x="577" y="205">93</tspan><tspan x="657" y="213">93</tspan><tspan x="785" y="211">99</tspan><tspan x="413" y="217">91</tspan><tspan x="464" y="230">93</tspan><tspan x="509" y="228">93</tspan><tspan x="599" y="238">93</tspan><tspan x="702" y="242">93</tspan><tspan x="766" y="228">100</tspan><tspan x="147" y="232">90</tspan><tspan x="202" y="244">93</tspan><tspan x="243" y="244">93</tspan><tspan x="314" y="240">91</tspan><tspan x="375" y="242">93</tspan><tspan x="541" y="257">93</tspan><tspan x="420" y="259">93</tspan><tspan x="480" y="263">93</tspan><tspan x="596" y="265">93</tspan><tspan x="637" y="261">93</tspan><tspan x="679" y="271">93</tspan><tspan x="766" y="255">100</tspan><tspan x="147" y="269">93</tspan><tspan x="221" y="267">93</tspan><tspan x="282" y="269">93</tspan><tspan x="336" y="267">93</tspan><tspan x="381" y="284">93</tspan><tspan x="256" y="286">93</tspan><tspan x="214" y="296">93</tspan><tspan x="317" y="298">93</tspan><tspan x="362" y="309">93</tspan><tspan x="413" y="298">93</tspan><tspan x="464" y="294">93</tspan><tspan x="522" y="282">93</tspan><tspan x="561" y="294">93</tspan><tspan x="609" y="288">93</tspan><tspan x="657" y="284">94</tspan><tspan x="695" y="294">93</tspan><tspan x="762" y="282">100</tspan><tspan x="163" y="303">93</tspan><tspan x="118" y="317">93</tspan><tspan x="541" y="313">93</tspan><tspan x="657" y="307">96</tspan><tspan x="721" y="311">100</tspan><tspan x="432" y="325">93</tspan><tspan x="480" y="327">93</tspan><tspan x="580" y="327">93</tspan><tspan x="634" y="332">93</tspan><tspan x="698" y="332">96</tspan><tspan x="753" y="328">100</tspan><tspan x="794" y="327">100</tspan><tspan x="73" y="338">93</tspan><tspan x="186" y="338">93</tspan><tspan x="246" y="330">93</tspan><tspan x="307" y="328">93</tspan><tspan x="352" y="340">93</tspan><tspan x="387" y="340">93</tspan><tspan x="455" y="352">93</tspan><tspan x="660" y="350">94</tspan><tspan x="234" y="359">93</tspan><tspan x="275" y="363">93</tspan><tspan x="516" y="361">93</tspan><tspan x="577" y="361">93</tspan><tspan x="621" y="369">96</tspan><tspan x="702" y="369">93</tspan><tspan x="772" y="373">100</tspan><tspan x="131" y="373">93</tspan><tspan x="189" y="378">93</tspan><tspan x="44" y="386">93</tspan><tspan x="330" y="384">93</tspan><tspan x="378" y="377">94</tspan><tspan x="445" y="386">93</tspan><tspan x="484" y="382">93</tspan><tspan x="551" y="380">100</tspan><tspan x="657" y="392">96</tspan><tspan x="730" y="390">100</tspan><tspan x="599" y="411">100</tspan><tspan x="647" y="417">100</tspan><tspan x="702" y="413">100</tspan><tspan x="769" y="415">100</tspan><tspan x="698" y="434">100</tspan><tspan x="724" y="446">100</tspan><tspan x="612" y="444">100</tspan><tspan x="657" y="450">100</tspan><tspan x="766" y="455">100</tspan><tspan x="743" y="469">100</tspan><tspan x="670" y="480">100</tspan><tspan x="705" y="492">100</tspan><tspan x="727" y="521">100</tspan><tspan x="721" y="536">100</tspan><tspan x="734" y="540">99</tspan><tspan x="702" y="552">100</tspan><tspan x="721" y="553">99</tspan><tspan x="775" y="550">93</tspan><tspan x="820" y="519">96</tspan><tspan x="900" y="500">93</tspan></text>
<text x="10" y="533" font-size="64" textLength="418" lengthAdjust="spacingAndGlyphs">24 h Avg Temp</text>
</g>

<!-- Panel 6 -->
<g transform="translate(2001,832)">
<rect x="0" y="0" width="975" height="566" fill="#fff" stroke="#888" stroke-width="2"/>
<use href="#ny" fill="#6c2aa2"/>
<g clip-path="url(#nyc)"><g filter="url(#bl)"><ellipse cx="570" cy="170" rx="90" ry="60" fill="#551888"/><path d="M760,190 L830,190 L830,580 L560,580 L560,420 L650,390 L700,340 L730,260 Z" fill="#e6dcf0"/><ellipse cx="680" cy="350" rx="50" ry="55" fill="#9a6ac8"/></g></g>
<use href="#cl"/>
<use href="#ny" fill="none" stroke="#000" stroke-width="3"/>
<use href="#mk"/>
<text font-size="20" font-weight="bold" text-anchor="middle" letter-spacing="-1.5" fill="#000"><tspan x="593" y="48">92</tspan><tspan x="676" y="48">92</tspan><tspan x="734" y="44">92</tspan><tspan x="782" y="44">92</tspan><tspan x="756" y="65">92</tspan><tspan x="602" y="71">92</tspan><tspan x="522" y="88">92</tspan><tspan x="695" y="100">92</tspan><tspan x="734" y="102">92</tspan><tspan x="791" y="113">92</tspan><tspan x="567" y="111">92</tspan><tspan x="477" y="113">92</tspan><tspan x="512" y="127">92</tspan><tspan x="663" y="123">92</tspan><tspan x="718" y="121">92</tspan><tspan x="439" y="136">92</tspan><tspan x="573" y="153">91</tspan><tspan x="689" y="153">92</tspan><tspan x="753" y="148">92</tspan><tspan x="785" y="165">92</tspan><tspan x="522" y="159">89</tspan><tspan x="464" y="175">91</tspan><tspan x="516" y="175">90</tspan><tspan x="551" y="184">90</tspan><tspan x="599" y="178">92</tspan><tspan x="644" y="171">92</tspan><tspan x="689" y="175">92</tspan><tspan x="743" y="192">100</tspan><tspan x="493" y="196">90</tspan><tspan x="512" y="209">92</tspan><tspan x="577" y="205">91</tspan><tspan x="657" y="213">92</tspan><tspan x="785" y="211">100</tspan><tspan x="413" y="217">92</tspan><tspan x="464" y="230">92</tspan><tspan x="509" y="228">92</tspan><tspan x="599" y="238">92</tspan><tspan x="702" y="242">92</tspan><tspan x="766" y="228">100</tspan><tspan x="147" y="232">92</tspan><tspan x="202" y="244">92</tspan><tspan x="243" y="244">92</tspan><tspan x="314" y="240">92</tspan><tspan x="375" y="242">92</tspan><tspan x="541" y="257">92</tspan><tspan x="420" y="259">92</tspan><tspan x="480" y="263">92</tspan><tspan x="596" y="265">92</tspan><tspan x="637" y="261">92</tspan><tspan x="679" y="271">92</tspan><tspan x="766" y="255">100</tspan><tspan x="147" y="269">92</tspan><tspan x="221" y="267">92</tspan><tspan x="282" y="269">92</tspan><tspan x="336" y="267">92</tspan><tspan x="381" y="284">92</tspan><tspan x="256" y="286">92</tspan><tspan x="214" y="296">92</tspan><tspan x="317" y="298">92</tspan><tspan x="362" y="309">94</tspan><tspan x="413" y="298">92</tspan><tspan x="464" y="294">92</tspan><tspan x="522" y="282">92</tspan><tspan x="561" y="294">92</tspan><tspan x="609" y="288">92</tspan><tspan x="657" y="284">92</tspan><tspan x="695" y="294">95</tspan><tspan x="762" y="282">100</tspan><tspan x="163" y="303">92</tspan><tspan x="118" y="317">92</tspan><tspan x="541" y="313">92</tspan><tspan x="657" y="307">95</tspan><tspan x="721" y="311">100</tspan><tspan x="432" y="325">92</tspan><tspan x="480" y="327">92</tspan><tspan x="580" y="327">92</tspan><tspan x="634" y="332">92</tspan><tspan x="698" y="332">96</tspan><tspan x="753" y="328">100</tspan><tspan x="794" y="327">100</tspan><tspan x="73" y="338">92</tspan><tspan x="186" y="338">92</tspan><tspan x="246" y="330">92</tspan><tspan x="307" y="328">92</tspan><tspan x="352" y="340">92</tspan><tspan x="387" y="340">92</tspan><tspan x="455" y="352">92</tspan><tspan x="660" y="350">94</tspan><tspan x="234" y="359">92</tspan><tspan x="275" y="363">92</tspan><tspan x="516" y="361">92</tspan><tspan x="577" y="361">92</tspan><tspan x="621" y="369">96</tspan><tspan x="702" y="369">100</tspan><tspan x="772" y="373">100</tspan><tspan x="131" y="373">92</tspan><tspan x="189" y="378">92</tspan><tspan x="44" y="386">92</tspan><tspan x="330" y="384">92</tspan><tspan x="378" y="377">92</tspan><tspan x="445" y="386">93</tspan><tspan x="484" y="382">93</tspan><tspan x="551" y="380">99</tspan><tspan x="657" y="392">100</tspan><tspan x="730" y="390">100</tspan><tspan x="599" y="411">100</tspan><tspan x="647" y="417">100</tspan><tspan x="702" y="413">100</tspan><tspan x="769" y="415">100</tspan><tspan x="698" y="434">100</tspan><tspan x="724" y="446">100</tspan><tspan x="612" y="444">100</tspan><tspan x="657" y="450">100</tspan><tspan x="766" y="455">100</tspan><tspan x="743" y="469">100</tspan><tspan x="670" y="480">100</tspan><tspan x="705" y="492">100</tspan><tspan x="727" y="521">100</tspan><tspan x="721" y="536">100</tspan><tspan x="734" y="540">100</tspan><tspan x="702" y="552">100</tspan><tspan x="721" y="553">100</tspan><tspan x="775" y="550">100</tspan><tspan x="820" y="519">100</tspan><tspan x="900" y="500">100</tspan></text>
<text x="16" y="539" font-size="64" textLength="532" lengthAdjust="spacingAndGlyphs">24 h Avg Irradiance</text>
</g>

<!-- Panel 7 -->
<g transform="translate(10,1408)">
<rect x="0" y="0" width="975" height="566" fill="#fff" stroke="#888" stroke-width="2"/>
<use href="#ny" fill="#f1edf5"/>
<use href="#cl"/>
<use href="#ny" fill="none" stroke="#000" stroke-width="3"/>
<use href="#mk"/>
<text font-size="20" font-weight="bold" text-anchor="middle" letter-spacing="-1.5" fill="#000"><tspan x="593" y="48">100</tspan><tspan x="676" y="48">100</tspan><tspan x="734" y="44">100</tspan><tspan x="782" y="44">100</tspan><tspan x="756" y="65">100</tspan><tspan x="602" y="71">100</tspan><tspan x="522" y="88">100</tspan><tspan x="695" y="100">100</tspan><tspan x="734" y="102">100</tspan><tspan x="791" y="113">100</tspan><tspan x="567" y="111">100</tspan><tspan x="477" y="113">100</tspan><tspan x="512" y="127">100</tspan><tspan x="663" y="123">100</tspan><tspan x="718" y="121">100</tspan><tspan x="439" y="136">100</tspan><tspan x="573" y="153">100</tspan><tspan x="689" y="153">100</tspan><tspan x="753" y="148">100</tspan><tspan x="785" y="165">100</tspan><tspan x="522" y="159">100</tspan><tspan x="464" y="175">100</tspan><tspan x="516" y="175">100</tspan><tspan x="551" y="184">100</tspan><tspan x="599" y="178">100</tspan><tspan x="644" y="171">100</tspan><tspan x="689" y="175">100</tspan><tspan x="743" y="192">100</tspan><tspan x="493" y="196">100</tspan><tspan x="512" y="209">100</tspan><tspan x="577" y="205">100</tspan><tspan x="657" y="213">100</tspan><tspan x="785" y="211">100</tspan><tspan x="413" y="217">100</tspan><tspan x="464" y="230">100</tspan><tspan x="509" y="228">100</tspan><tspan x="599" y="238">100</tspan><tspan x="702" y="242">100</tspan><tspan x="766" y="228">100</tspan><tspan x="147" y="232">100</tspan><tspan x="202" y="244">100</tspan><tspan x="243" y="244">100</tspan><tspan x="314" y="240">100</tspan><tspan x="375" y="242">100</tspan><tspan x="541" y="257">100</tspan><tspan x="420" y="259">100</tspan><tspan x="480" y="263">100</tspan><tspan x="596" y="265">100</tspan><tspan x="637" y="261">100</tspan><tspan x="679" y="271">100</tspan><tspan x="766" y="255">100</tspan><tspan x="147" y="269">100</tspan><tspan x="221" y="267">100</tspan><tspan x="282" y="269">100</tspan><tspan x="336" y="267">100</tspan><tspan x="381" y="284">100</tspan><tspan x="256" y="286">100</tspan><tspan x="214" y="296">100</tspan><tspan x="317" y="298">100</tspan><tspan x="362" y="309">100</tspan><tspan x="413" y="298">100</tspan><tspan x="464" y="294">100</tspan><tspan x="522" y="282">100</tspan><tspan x="561" y="294">100</tspan><tspan x="609" y="288">100</tspan><tspan x="657" y="284">100</tspan><tspan x="695" y="294">100</tspan><tspan x="762" y="282">100</tspan><tspan x="163" y="303">100</tspan><tspan x="118" y="317">100</tspan><tspan x="541" y="313">100</tspan><tspan x="657" y="307">100</tspan><tspan x="721" y="311">100</tspan><tspan x="432" y="325">100</tspan><tspan x="480" y="327">100</tspan><tspan x="580" y="327">100</tspan><tspan x="634" y="332">100</tspan><tspan x="698" y="332">100</tspan><tspan x="753" y="328">100</tspan><tspan x="794" y="327">100</tspan><tspan x="73" y="338">100</tspan><tspan x="186" y="338">100</tspan><tspan x="246" y="330">100</tspan><tspan x="307" y="328">100</tspan><tspan x="352" y="340">100</tspan><tspan x="387" y="340">100</tspan><tspan x="455" y="352">100</tspan><tspan x="660" y="350">100</tspan><tspan x="234" y="359">100</tspan><tspan x="275" y="363">100</tspan><tspan x="516" y="361">100</tspan><tspan x="577" y="361">100</tspan><tspan x="621" y="369">100</tspan><tspan x="702" y="369">100</tspan><tspan x="772" y="373">100</tspan><tspan x="131" y="373">100</tspan><tspan x="189" y="378">100</tspan><tspan x="44" y="386">100</tspan><tspan x="330" y="384">100</tspan><tspan x="378" y="377">100</tspan><tspan x="445" y="386">100</tspan><tspan x="484" y="382">100</tspan><tspan x="551" y="380">100</tspan><tspan x="657" y="392">100</tspan><tspan x="730" y="390">100</tspan><tspan x="599" y="411">100</tspan><tspan x="647" y="417">100</tspan><tspan x="702" y="413">100</tspan><tspan x="769" y="415">100</tspan><tspan x="698" y="434">100</tspan><tspan x="724" y="446">100</tspan><tspan x="612" y="444">100</tspan><tspan x="657" y="450">100</tspan><tspan x="766" y="455">100</tspan><tspan x="743" y="469">100</tspan><tspan x="670" y="480">100</tspan><tspan x="705" y="492">100</tspan><tspan x="727" y="521">100</tspan><tspan x="721" y="536">100</tspan><tspan x="734" y="540">100</tspan><tspan x="702" y="552">100</tspan><tspan x="721" y="553">100</tspan><tspan x="775" y="550">100</tspan><tspan x="820" y="519">100</tspan><tspan x="900" y="500">100</tspan></text>
<text x="10" y="552" font-size="64" textLength="655" lengthAdjust="spacingAndGlyphs">Latest Surface Estimate</text>
</g>

<!-- Text block -->
<g font-weight="bold" font-size="54" fill="#000">
<text x="1026" y="1457" textLength="871" lengthAdjust="spacingAndGlyphs">1) Percentiles Close To 50 Suggest</text>
<text x="1026" y="1513" textLength="838" lengthAdjust="spacingAndGlyphs">Historically Similar Conditions To</text>
<text x="1026" y="1570" textLength="656" lengthAdjust="spacingAndGlyphs">Past Freezing Rain Events</text>
<text x="1026" y="1679" textLength="860" lengthAdjust="spacingAndGlyphs">2) Percentiles Of 0 Or 100 Suggest</text>
<text x="1026" y="1734" textLength="800" lengthAdjust="spacingAndGlyphs">That Variable’s Value Is Outside</text>
<text x="1026" y="1791" textLength="622" lengthAdjust="spacingAndGlyphs">The 99 Case Climatology</text>
<text x="1026" y="1900" textLength="462" lengthAdjust="spacingAndGlyphs">Figure created on:</text>
<text x="1026" y="1959" textLength="698" lengthAdjust="spacingAndGlyphs">Sat, 2026-04-11, at 01:04 PM</text>
</g>

<!-- Panel 9 -->
<g transform="translate(2001,1408)">
<rect x="0" y="0" width="975" height="566" fill="#fff" stroke="#888" stroke-width="2"/>
<use href="#ny" fill="#c6b1de"/>
<g clip-path="url(#nyc)"><g filter="url(#bl)"><ellipse cx="650" cy="110" rx="180" ry="90" fill="#d2c1e7"/><path d="M760,190 L830,190 L830,580 L570,580 L570,420 L660,390 L720,320 Z" fill="#ece5f3"/></g></g>
<use href="#cl"/>
<use href="#ny" fill="none" stroke="#000" stroke-width="3"/>
<use href="#mk"/>
<text font-size="20" font-weight="bold" text-anchor="middle" letter-spacing="-1.5" fill="#000"><tspan x="593" y="48">97</tspan><tspan x="676" y="48">97</tspan><tspan x="734" y="44">97</tspan><tspan x="782" y="44">97</tspan><tspan x="756" y="65">97</tspan><tspan x="602" y="71">97</tspan><tspan x="522" y="88">97</tspan><tspan x="695" y="100">97</tspan><tspan x="734" y="102">97</tspan><tspan x="791" y="113">97</tspan><tspan x="567" y="111">97</tspan><tspan x="477" y="113">97</tspan><tspan x="512" y="127">97</tspan><tspan x="663" y="123">97</tspan><tspan x="718" y="121">97</tspan><tspan x="439" y="136">97</tspan><tspan x="573" y="153">95</tspan><tspan x="689" y="153">97</tspan><tspan x="753" y="148">97</tspan><tspan x="785" y="165">97</tspan><tspan x="522" y="159">97</tspan><tspan x="464" y="175">97</tspan><tspan x="516" y="175">97</tspan><tspan x="551" y="184">98</tspan><tspan x="599" y="178">98</tspan><tspan x="644" y="171">97</tspan><tspan x="689" y="175">97</tspan><tspan x="743" y="192">99</tspan><tspan x="493" y="196">98</tspan><tspan x="512" y="209">98</tspan><tspan x="577" y="205">98</tspan><tspan x="657" y="213">98</tspan><tspan x="785" y="211">100</tspan><tspan x="413" y="217">98</tspan><tspan x="464" y="230">98</tspan><tspan x="509" y="228">98</tspan><tspan x="599" y="238">98</tspan><tspan x="702" y="242">98</tspan><tspan x="766" y="228">100</tspan><tspan x="147" y="232">97</tspan><tspan x="202" y="244">98</tspan><tspan x="243" y="244">97</tspan><tspan x="314" y="240">98</tspan><tspan x="375" y="242">98</tspan><tspan x="541" y="257">98</tspan><tspan x="420" y="259">98</tspan><tspan x="480" y="263">98</tspan><tspan x="596" y="265">98</tspan><tspan x="637" y="261">98</tspan><tspan x="679" y="271">98</tspan><tspan x="766" y="255">100</tspan><tspan x="147" y="269">98</tspan><tspan x="221" y="267">98</tspan><tspan x="282" y="269">98</tspan><tspan x="336" y="267">98</tspan><tspan x="381" y="284">98</tspan><tspan x="256" y="286">98</tspan><tspan x="214" y="296">98</tspan><tspan x="317" y="298">98</tspan><tspan x="362" y="309">97</tspan><tspan x="413" y="298">98</tspan><tspan x="464" y="294">98</tspan><tspan x="522" y="282">98</tspan><tspan x="561" y="294">98</tspan><tspan x="609" y="288">98</tspan><tspan x="657" y="284">98</tspan><tspan x="695" y="294">98</tspan><tspan x="762" y="282">100</tspan><tspan x="163" y="303">98</tspan><tspan x="118" y="317">98</tspan><tspan x="541" y="313">98</tspan><tspan x="657" y="307">98</tspan><tspan x="721" y="311">99</tspan><tspan x="432" y="325">98</tspan><tspan x="480" y="327">98</tspan><tspan x="580" y="327">98</tspan><tspan x="634" y="332">98</tspan><tspan x="698" y="332">99</tspan><tspan x="753" y="328">100</tspan><tspan x="794" y="327">100</tspan><tspan x="73" y="338">98</tspan><tspan x="186" y="338">98</tspan><tspan x="246" y="330">98</tspan><tspan x="307" y="328">98</tspan><tspan x="352" y="340">98</tspan><tspan x="387" y="340">98</tspan><tspan x="455" y="352">98</tspan><tspan x="660" y="350">98</tspan><tspan x="234" y="359">98</tspan><tspan x="275" y="363">98</tspan><tspan x="516" y="361">98</tspan><tspan x="577" y="361">98</tspan><tspan x="621" y="369">99</tspan><tspan x="702" y="369">99</tspan><tspan x="772" y="373">100</tspan><tspan x="131" y="373">98</tspan><tspan x="189" y="378">98</tspan><tspan x="44" y="386">98</tspan><tspan x="330" y="384">98</tspan><tspan x="378" y="377">98</tspan><tspan x="445" y="386">98</tspan><tspan x="484" y="382">98</tspan><tspan x="551" y="380">99</tspan><tspan x="657" y="392">99</tspan><tspan x="730" y="390">100</tspan><tspan x="599" y="411">100</tspan><tspan x="647" y="417">100</tspan><tspan x="702" y="413">100</tspan><tspan x="769" y="415">100</tspan><tspan x="698" y="434">100</tspan><tspan x="724" y="446">100</tspan><tspan x="612" y="444">100</tspan><tspan x="657" y="450">100</tspan><tspan x="766" y="455">100</tspan><tspan x="743" y="469">100</tspan><tspan x="670" y="480">100</tspan><tspan x="705" y="492">100</tspan><tspan x="727" y="521">100</tspan><tspan x="721" y="536">100</tspan><tspan x="734" y="540">100</tspan><tspan x="702" y="552">100</tspan><tspan x="721" y="553">100</tspan><tspan x="775" y="550">99</tspan><tspan x="820" y="519">99</tspan><tspan x="900" y="500">99</tspan></text>
<text x="12" y="541" font-size="64" textLength="519" lengthAdjust="spacingAndGlyphs">Percentile Average</text>
</g>

<!-- Colorbar -->
<rect x="2991" y="447" width="64" height="1529" fill="url(#cb)" stroke="#999" stroke-width="2"/>
<text x="3084" y="385" font-size="84" text-anchor="middle">%</text>
<g font-size="62" text-anchor="middle" fill="#000">
<text x="3127" y="483">100</text><text x="3127" y="558">95</text><text x="3127" y="633">90</text><text x="3127" y="708">85</text><text x="3127" y="783">80</text><text x="3127" y="858">75</text><text x="3127" y="933">70</text><text x="3127" y="1008">65</text><text x="3127" y="1083">60</text><text x="3127" y="1158">55</text><text x="3127" y="1233">50</text><text x="3127" y="1308">45</text><text x="3127" y="1383">40</text><text x="3127" y="1458">35</text><text x="3127" y="1533">30</text><text x="3127" y="1608">25</text><text x="3127" y="1683">20</text><text x="3127" y="1758">15</text><text x="3127" y="1833">10</text><text x="3127" y="1908">5</text><text x="3127" y="1983">0</text>
</g>

<text x="564" y="2031" font-size="40" font-weight="bold" fill="#808080" textLength="2086" lengthAdjust="spacingAndGlyphs">Created By Nick Bassill Via COMET Partners Project SUBAWD001611 With Data Provided By The NYS Mesonet</text>
</svg>
</body></html>
